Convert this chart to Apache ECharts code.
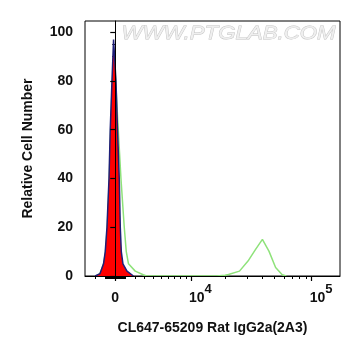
<!DOCTYPE html>
<html>
<head>
<meta charset="utf-8">
<script src="https://cdn.jsdelivr.net/npm/echarts@6/dist/echarts.min.js"></script>
<style>
  html, body { margin: 0; padding: 0; background: #fff; }
  #container { width: 361px; height: 356px; }
</style>
</head>
<body>
<div id="container"></div>
<script>
/* Histogram data (fluorescence intensity, relative count) */
var isotypeX = [-2000, -1500, -1150, -980, -810, -610, -490, -320, -165, 70, 220, 390, 490, 590, 750, 1150, 1800];
var isotypeY = [0, 1, 5, 10, 20, 40, 60, 80, 97, 80, 60, 40, 20, 10, 5, 2, 0];

var stainedX = [-1900, -1500, -1150, -950, -780, -580, -450, -290, -120, 40, 292, 555, 880, 1080, 1300, 1990, 2850, 3200,
                16800, 19800, 21100, 26000, 30900, 35100, 40000, 45200, 51200, 57900, 62500];
var stainedY = [0, 1, 5, 10, 20, 40, 60, 80, 90, 80, 60, 40, 20, 10, 5, 2, 0.5, 0,
                0, 0.3, 0.6, 2.0, 6.5, 10.8, 15, 10.2, 3.5, 0.5, 0];

var majorTicks = [0, 10000, 100000];
var minorTicks = [-2000, -1000, -900, -800, -700, -600, -500, -400, -300, -200, -100,
                  100, 200, 300, 400, 500, 600, 700, 800, 900, 1000,
                  2000, 3000, 4000, 5000, 6000, 7000, 8000, 9000,
                  20000, 30000, 40000, 50000, 60000, 70000, 80000, 90000];
var yLabels = [0, 20, 40, 60, 80, 100];
var yMinor = [5, 10, 15, 25, 30, 35, 45, 50, 55, 65, 70, 75, 85, 90, 95];

/* biexponential-like display scale */
var W = 5250;
function T(v) { return Math.asinh(v / W); }

function toPairs(xs, ys) {
    return xs.map(function (x, i) { return [T(x), ys[i]]; });
}

var FONT = "'Liberation Sans', Arial, sans-serif";
var xMin = -0.561, xMax = 4.167;

var dom = document.getElementById("container");
var myChart = echarts.init(dom, null, { renderer: 'canvas' });

var option = {
    animation: false,
    grid: {
        left: 85, right: 21, top: 21, bottom: 80,
        show: true, borderColor: '#000', borderWidth: 1
    },
    graphic: [{
        type: 'text',
        left: 121, top: 24,
        z: 0,
        scaleX: 1.17,
        style: {
            text: 'WWW.PTGLAB.COM',
            fontSize: 19,
            fontStyle: 'italic',
            fontFamily: FONT,
            fill: '#efefef',
            stroke: '#c2c2c2',
            lineWidth: 0.8
        }
    }],
    xAxis: [{
        type: 'value',
        min: xMin, max: xMax,
        z: 10,
        splitLine: { show: false },
        axisLine: { show: true, lineStyle: { color: '#000', width: 1 } },
        axisTick: {
            show: true, length: 5, lineStyle: { color: '#000', width: 1.2 },
            customValues: majorTicks.map(T)
        },
        axisLabel: {
            margin: 7,
            customValues: majorTicks.map(T),
            formatter: function (val) {
                var v = W * Math.sinh(val);
                if (Math.abs(v) < 1) return '{b|0}';
                var e = Math.round(Math.log10(v));
                return '{p|10}{s|' + e + '}';
            },
            rich: {
                b: { fontSize: 14, fontWeight: 'bold', fontFamily: FONT, color: '#111', lineHeight: 22, verticalAlign: 'bottom' },
                p: { fontSize: 14, fontWeight: 'bold', fontFamily: FONT, color: '#111', lineHeight: 22, verticalAlign: 'bottom', padding: [0, 0, 0, 19] },
                s: { fontSize: 13, fontWeight: 'bold', fontFamily: FONT, color: '#111', verticalAlign: 'top' }
            }
        },
        name: 'CL647-65209 Rat IgG2a(2A3)',
        nameLocation: 'middle',
        nameGap: 45,
        nameTextStyle: { fontSize: 14, fontWeight: 'bold', fontFamily: FONT, color: '#111' }
    }, {
        type: 'value',
        min: xMin, max: xMax,
        position: 'bottom',
        splitLine: { show: false },
        axisLine: { show: false },
        axisLabel: { show: false },
        axisTick: {
            show: true, length: 3, lineStyle: { color: '#000', width: 1 },
            customValues: minorTicks.map(T)
        }
    }],
    yAxis: [{
        type: 'value',
        min: 0, max: 104.6,
        z: 10,
        splitLine: { show: false },
        axisLine: { show: true, lineStyle: { color: '#000', width: 1 } },
        axisTick: { show: true, length: 5, lineStyle: { color: '#000', width: 1.2 }, customValues: yLabels },
        axisLabel: {
            margin: 12,
            customValues: yLabels,
            fontSize: 14, fontWeight: 'bold', fontFamily: FONT, color: '#111'
        },
        name: 'Relative Cell Number',
        nameLocation: 'middle',
        nameGap: 50,
        nameTextStyle: { fontSize: 14, fontWeight: 'bold', fontFamily: FONT, color: '#111' }
    }, {
        type: 'value',
        min: 0, max: 104.6,
        position: 'left',
        splitLine: { show: false },
        axisLine: { show: false },
        axisLabel: { show: false },
        axisTick: { show: true, length: 3, lineStyle: { color: '#000', width: 1 }, customValues: yMinor }
    }],
    series: [{
        name: 'stained',
        type: 'line',
        data: toPairs(stainedX, stainedY),
        symbol: 'none',
        z: 2,
        lineStyle: { color: '#8ee27a', width: 1.5 }
    }, {
        name: 'isotype',
        type: 'line',
        data: toPairs(isotypeX, isotypeY),
        symbol: 'none',
        z: 3,
        lineStyle: { color: '#1e1e78', width: 1.5 },
        areaStyle: { color: '#ff0000', opacity: 1 }
    }]
};

myChart.setOption(option);
</script>
</body>
</html>
